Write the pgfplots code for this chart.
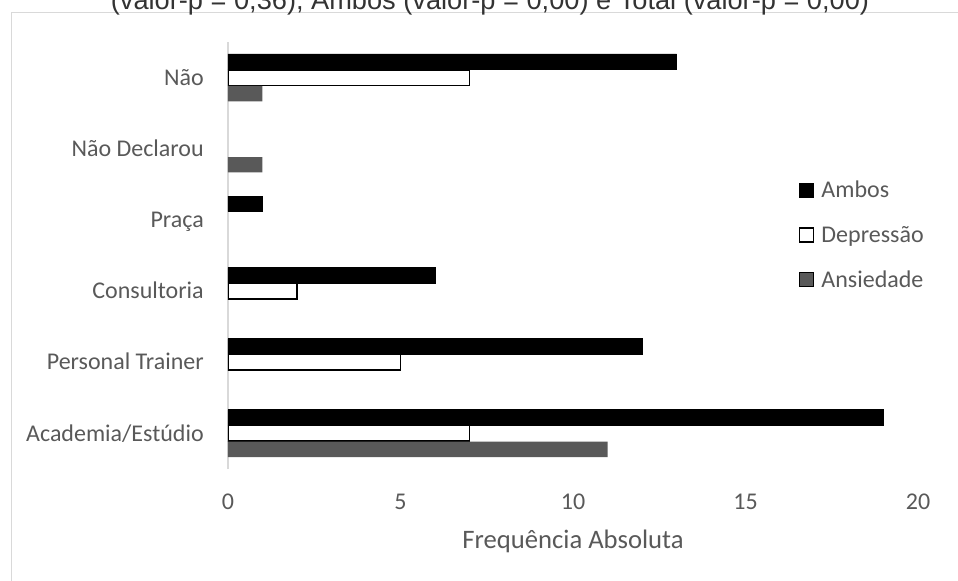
\documentclass[border=0pt]{standalone}
\usepackage{pgfplots}
\pgfplotsset{compat=1.18}
\usepackage{fontspec}
\setmainfont{Carlito}
\newfontfamily\arialfont{Liberation Sans}
\definecolor{txtgray}{HTML}{595959}
\definecolor{barGray}{HTML}{595959}
\definecolor{frameGray}{HTML}{D9D9D9}

\begin{document}
\begin{tikzpicture}
% page area (1px = 0.75pt)
\useasboundingbox (0,0) rectangle (718.5pt,-435.75pt);
\clip (0,0) rectangle (718.5pt,-435.75pt);
% chart frame
\draw[frameGray, line width=0.75pt] (8.25pt,-9.5pt) rectangle (740pt,-460pt);
% title (continues above the frame)
\node[anchor=base, font=\arialfont\fontsize{20.4}{24}\selectfont, text=black!80, inner sep=0pt]
  at (367.5pt,-7pt) {(valor-p = 0,36), Ambos (valor-p = 0,00) e Total (valor-p = 0,00)};
\begin{axis}[
  at={(171pt,-351.75pt)}, anchor=south west,
  scale only axis, width=517.5pt, height=320.25pt,
  xbar, bar width=11.6pt,
  xmin=0, xmax=20, ymin=-0.5, ymax=5.5,
  xtick={0,5,10,15,20},
  ytick={0,1,2,3,4,5},
  yticklabels={Academia/Estúdio, Personal Trainer, Consultoria, Praça, Não Declarou, Não},
  axis lines*=left,
  x axis line style={draw=none},
  y axis line style={draw=frameGray, line width=1pt},
  major tick length=0pt, tick style={draw=none},
  /pgf/number format/assume math mode=true,
  ticklabel style={font=\fontsize{18}{21}\selectfont, text=txtgray},
  xticklabel style={anchor=center, inner sep=0pt, yshift=-24.75pt},
  yticklabel style={anchor=base east, inner sep=0pt, xshift=-18pt, yshift=-5.7pt},
  xlabel={Frequência Absoluta},
  xlabel style={at={(rel axis cs:0.5,0)}, anchor=base, inner sep=0pt, yshift=-59.6pt,
    font=\fontsize{20}{24}\selectfont, text=txtgray},
  legend style={at={(0.8275,0.6706)}, anchor=north west, draw=none, fill=none,
    inner sep=0pt, outer sep=0pt, row sep=21.9pt, column sep=5.25pt,
    font=\fontsize{18}{21}\selectfont, text=txtgray,
    nodes={inner sep=0pt, text height=11.4pt, text depth=0pt}},
  legend cell align=left,
  legend image code/.code={\draw[#1] (0pt,-4.95pt) rectangle (10.5pt,5.55pt);},
]
% Ambos
\addplot[fill=black, draw=black, line width=0.4pt, bar shift=12pt]
  coordinates {(19,0) (12,1) (6,2) (1,3) (13,5)};
% Depressao
\addplot[fill=white, draw=black, line width=1.1pt, bar shift=0pt]
  coordinates {(7,0) (5,1) (2,2) (7,5)};
% Ansiedade
\addplot[fill=barGray, draw=none, bar shift=-12pt]
  coordinates {(11,0) (1,4) (1,5)};
\legend{Ambos, Depressão, Ansiedade}
\end{axis}
\end{tikzpicture}
\end{document}
